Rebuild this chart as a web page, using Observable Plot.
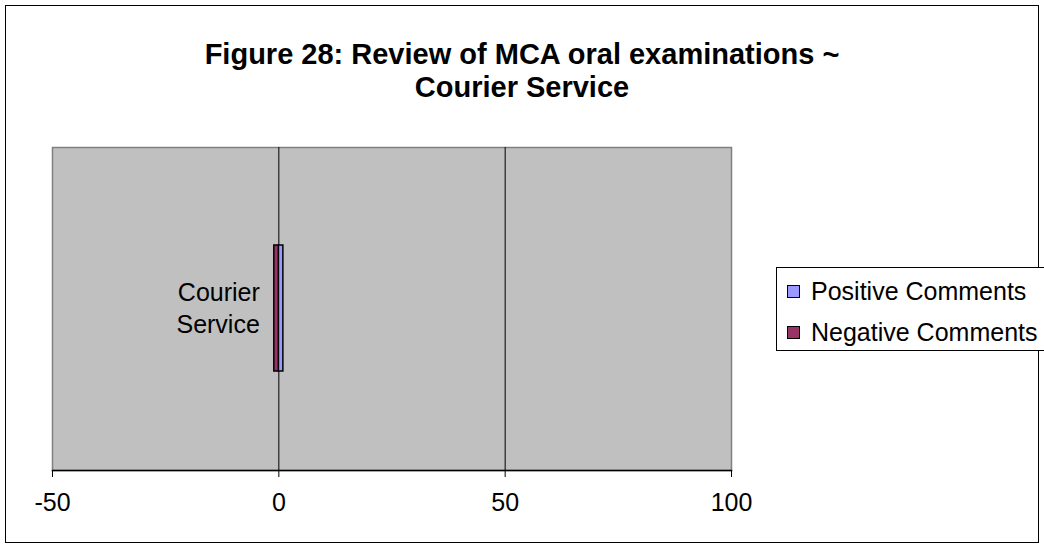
<!DOCTYPE html>
<html>
<head>
<meta charset="utf-8">
<script src="https://cdn.jsdelivr.net/npm/d3@7"></script>
<script src="https://cdn.jsdelivr.net/npm/@observablehq/plot@0.6"></script>
<style>
  html, body { margin: 0; padding: 0; background: #fff; }
  #wrap { position: relative; width: 1044px; height: 549px; font-family: "Liberation Sans", Arial, sans-serif; overflow: hidden; }
  #border { position: absolute; left: 5px; top: 5px; width: 1034px; height: 538px; border: 1px solid #000; box-sizing: border-box; }
  #title { position: absolute; left: 0; width: 1044px; top: 38px; text-align: center; font-weight: bold; font-size: 29px; line-height: 33px; color: #000; }
  #legend { position: absolute; left: 776px; top: 267px; width: 280px; height: 84px; border: 1px solid #000; box-sizing: border-box; background: #fff; }
  .item { position: absolute; left: 10px; font-size: 25px; line-height: 28px; display: flex; align-items: center; white-space: nowrap; }
  .sw { width: 11px; height: 11px; border: 1.5px solid #000; margin-right: 11px; }
  #chart { position: absolute; left: 0; top: 0; }
</style>
</head>
<body>
<div id="wrap">
  <div id="chart"></div>
  <div id="border"></div>
  <div id="title">Figure 28: Review of MCA oral examinations ~<br>Courier Service</div>
  <div id="legend"></div>
</div>
<script>
const categories = ["Courier Service"];
const seriesNames = ["Positive Comments", "Negative Comments"];
const seriesColors = ["#9999FF", "#993366"];
const positiveValues = [1];
const negativeValues = [-1];
const xTicks = [-50, 0, 50, 100];
const gridValues = [50];

const rows = [];
categories.forEach((c, i) => {
  rows.push({category: c, series: seriesNames[0], value: positiveValues[i]});
  rows.push({category: c, series: seriesNames[1], value: negativeValues[i]});
});

const chart = Plot.plot({
  width: 1044,
  height: 549,
  marginLeft: 52,
  marginRight: 313,
  marginTop: 147,
  marginBottom: 79,
  style: {fontFamily: "Liberation Sans, Arial, sans-serif", background: "transparent"},
  x: {domain: [-50, 100], ticks: xTicks, label: null},
  y: {domain: categories, padding: 0.436, axis: null, label: null},
  color: {domain: seriesNames, range: seriesColors},
  marks: [
    Plot.frame({fill: "#C0C0C0", stroke: "#808080", strokeWidth: 1.5}),
    Plot.ruleX(gridValues, {stroke: "#000", strokeWidth: 1}),
    Plot.ruleX([0], {stroke: "#000", strokeWidth: 1}),
    Plot.frame({anchor: "bottom", stroke: "#000", strokeWidth: 1.5}),
    Plot.barX(rows, {x: "value", y: "category", fill: "series", stroke: "#000", strokeWidth: 1.5}),
    Plot.text(categories, {x: () => 0, y: d => d, text: d => d.replace(" ", "\n"), textAnchor: "end", dx: -19, dy: -2, fontSize: 25, lineHeight: 1.3, fill: "#000"}),
    Plot.axisX({ticks: xTicks, tickSize: 7, tickPadding: 16, fontSize: 25, tickFormat: d => String(d), stroke: "#000", color: "#000", label: null})
  ]
});
document.getElementById("chart").appendChild(chart);

const legend = document.getElementById("legend");
seriesNames.forEach((s, i) => {
  const item = document.createElement("div");
  item.className = "item";
  item.style.top = (i === 0 ? 9 : 50) + "px";
  const sw = document.createElement("span");
  sw.className = "sw";
  sw.style.background = seriesColors[i];
  item.appendChild(sw);
  item.appendChild(document.createTextNode(s));
  legend.appendChild(item);
});
</script>
</body>
</html>
